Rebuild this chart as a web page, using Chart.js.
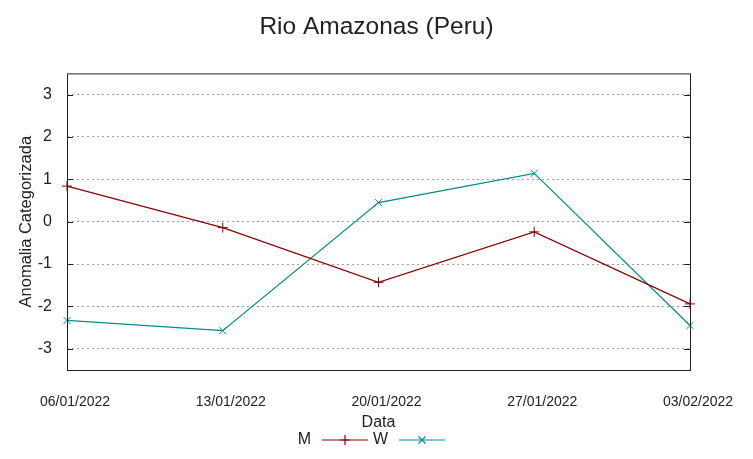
<!DOCTYPE html>
<html>
<head>
<meta charset="utf-8">
<script src="https://cdn.jsdelivr.net/npm/chart.js@4.4.0/dist/chart.umd.min.js"></script>
<style>
  html, body { margin: 0; background: #fff; }
  #wrap { width: 753px; height: 459px; }
</style>
</head>
<body>
<div id="wrap"><canvas id="grafico"></canvas></div>
<script>
// dados
const datas = ['06/01/2022', '13/01/2022', '20/01/2022', '27/01/2022', '03/02/2022'];
const serieM = [0.84, -0.14, -1.43, -0.24, -1.94];
const serieW = [-2.33, -2.57, 0.45, 1.14, -2.45];
const yTicks = [-3, -2, -1, 0, 1, 2, 3];

const fonte = "'Liberation Sans', Arial, sans-serif";

// caixa do gráfico + marcas dos ticks (estilo gnuplot)
const caixa = {
    id: 'caixa',
    afterDatasetsDraw(chart) {
        const { ctx, chartArea: a, scales } = chart;
        ctx.save();
        ctx.strokeStyle = '#222';
        ctx.lineWidth = 1;
        ctx.strokeRect(a.left + 0.5, a.top + 0.5, a.right - a.left, a.bottom - a.top);
        yTicks.forEach(v => {
            const y = Math.round(scales.y.getPixelForValue(v)) + 0.5;
            ctx.beginPath();
            ctx.moveTo(a.left, y); ctx.lineTo(a.left + 6, y);
            ctx.moveTo(a.right, y); ctx.lineTo(a.right - 6, y);
            ctx.stroke();
        });
        ctx.restore();
    }
};

// legenda abaixo do eixo: texto (alinhado à direita) e depois amostra da linha
const legenda = {
    id: 'legenda',
    afterDraw(chart) {
        const { ctx } = chart;
        const y = 440;
        let x = 297;
        ctx.save();
        ctx.font = '16px ' + fonte;
        ctx.textBaseline = 'middle';
        chart.data.datasets.forEach(ds => {
            ctx.fillStyle = '#222';
            ctx.textAlign = 'right';
            ctx.fillText(ds.label, x + 14, y);
            ctx.strokeStyle = ds.borderColor;
            ctx.lineWidth = 1.2;
            ctx.beginPath();
            ctx.moveTo(x + 25, y); ctx.lineTo(x + 71, y);
            ctx.stroke();
            Chart.helpers.drawPoint(ctx, {
                pointStyle: ds.pointStyle, radius: 5, rotation: 0, borderWidth: 1
            }, x + 48, y);
            x += 77;
        });
        ctx.restore();
    }
};

new Chart(document.getElementById('grafico'), {
    type: 'line',
    data: {
        labels: datas,
        datasets: [
            {
                label: 'M',
                data: serieM,
                borderColor: '#8b0000',
                backgroundColor: '#8b0000',
                borderWidth: 1.2,
                pointStyle: 'cross',
                pointRadius: 5,
                pointBorderWidth: 1,
                tension: 0,
                clip: false
            },
            {
                label: 'W',
                data: serieW,
                borderColor: '#008b8b',
                backgroundColor: '#008b8b',
                borderWidth: 1.2,
                pointStyle: 'crossRot',
                pointRadius: 5,
                pointBorderWidth: 1,
                tension: 0,
                clip: false
            }
        ]
    },
    options: {
        responsive: true,
        maintainAspectRatio: false,
        animation: false,
        layout: { padding: 0 },
        scales: {
            x: {
                type: 'category',
                offset: false,
                afterFit: s => { s.height = 89; },
                grid: { display: false, drawTicks: false },
                border: { display: false },
                ticks: {
                    color: '#222',
                    font: { family: fonte, size: 14 },
                    padding: 24,
                    labelOffset: 8,
                    maxRotation: 0,
                    autoSkip: false
                },
                title: {
                    display: true,
                    text: 'Data',
                    color: '#222',
                    font: { family: fonte, size: 16 },
                    padding: { top: 0, bottom: 27 }
                }
            },
            y: {
                min: -3.5,
                max: 3.5,
                afterFit: s => { s.width = 67; },
                afterBuildTicks: s => { s.ticks = yTicks.map(v => ({ value: v })); },
                grid: { color: '#a0a0a0', lineWidth: 1, drawTicks: false },
                border: { display: false, dash: [2, 3] },
                ticks: {
                    color: '#222',
                    font: { family: fonte, size: 16 },
                    padding: 15
                },
                title: {
                    display: true,
                    text: 'Anomalia Categorizada',
                    color: '#222',
                    font: { family: fonte, size: 16.5 },
                    padding: { top: 17, bottom: 0 }
                }
            },
            // eixo vazio à direita só para reservar a margem
            margemDireita: {
                position: 'right',
                min: -3.5,
                max: 3.5,
                afterFit: s => { s.width = 63; },
                grid: { display: false, drawTicks: false },
                border: { display: false },
                ticks: { display: false }
            }
        },
        plugins: {
            legend: { display: false },
            tooltip: { enabled: false },
            title: {
                display: true,
                text: 'Rio Amazonas (Peru)',
                color: '#222',
                font: { family: fonte, size: 24.5, weight: 'normal' },
                padding: { top: 13, bottom: 31 }
            }
        }
    },
    plugins: [caixa, legenda]
});
</script>
</body>
</html>
